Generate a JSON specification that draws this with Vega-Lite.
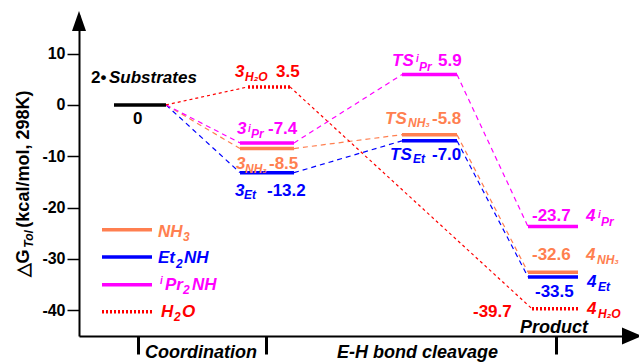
{
  "$schema": "https://vega.github.io/schema/vega-lite/v6.json",
  "width": 558,
  "height": 321,
  "autosize": {"type": "none"},
  "padding": {"left": 79, "top": 15, "right": 2, "bottom": 27},
  "background": "white",
  "config": {"view": {"stroke": null}, "font": "Liberation Sans"},
  "datasets": {
    "levels": [
      {"series": "ref", "stage": "start", "g": 0, "x0": 35, "x1": 87},
      {"series": "H2O", "stage": "3", "g": 3.5, "x0": 169, "x1": 211},
      {"series": "iPr2NH", "stage": "3", "g": -7.4, "x0": 161, "x1": 215},
      {"series": "NH3", "stage": "3", "g": -8.5, "x0": 161, "x1": 215},
      {"series": "Et2NH", "stage": "3", "g": -13.2, "x0": 161, "x1": 215},
      {"series": "iPr2NH", "stage": "TS", "g": 5.9, "x0": 323, "x1": 378},
      {"series": "NH3", "stage": "TS", "g": -5.8, "x0": 323, "x1": 378},
      {"series": "Et2NH", "stage": "TS", "g": -7.0, "x0": 323, "x1": 378},
      {"series": "iPr2NH", "stage": "4", "g": -23.7, "x0": 449, "x1": 499},
      {"series": "NH3", "stage": "4", "g": -32.6, "x0": 449, "x1": 499},
      {"series": "Et2NH", "stage": "4", "g": -33.5, "x0": 449, "x1": 499},
      {"series": "H2O", "stage": "4", "g": -39.7, "x0": 453, "x1": 499}
    ],
    "links": [
      {"series": "NH3", "xa": 87, "ga": 0, "xb": 161, "gb": -8.5},
      {"series": "NH3", "xa": 215, "ga": -8.5, "xb": 323, "gb": -5.8},
      {"series": "NH3", "xa": 378, "ga": -5.8, "xb": 449, "gb": -32.6},
      {"series": "Et2NH", "xa": 87, "ga": 0, "xb": 161, "gb": -13.2},
      {"series": "Et2NH", "xa": 215, "ga": -13.2, "xb": 323, "gb": -7.0},
      {"series": "Et2NH", "xa": 378, "ga": -7.0, "xb": 449, "gb": -33.5},
      {"series": "iPr2NH", "xa": 87, "ga": 0, "xb": 161, "gb": -7.4},
      {"series": "iPr2NH", "xa": 215, "ga": -7.4, "xb": 323, "gb": 5.9},
      {"series": "iPr2NH", "xa": 378, "ga": 5.9, "xb": 449, "gb": -23.7},
      {"series": "H2O", "xa": 87, "ga": 0, "xb": 169, "gb": 3.5},
      {"series": "H2O", "xa": 211, "ga": 3.5, "xb": 453, "gb": -39.7}
    ],
    "labels": [
      {"series": "ref", "role": "num", "text": "2•", "x": 12, "g": 4.35},
      {"series": "ref", "role": "main", "text": "Substrates", "x": 30, "g": 4.35},
      {"series": "ref", "role": "num", "text": "0", "x": 54, "g": -3.67},
      {"series": "ref", "role": "stage", "text": "Coordination", "x": 66, "g": -49.3},
      {"series": "ref", "role": "stage", "text": "E-H bond cleavage", "x": 258, "g": -49.3},
      {"series": "ref", "role": "stage", "text": "Product", "x": 441, "g": -44.4},
      {"series": "H2O", "role": "main", "text": "3", "x": 156, "g": 5.52},
      {"series": "H2O", "role": "sub", "text": "H₂O", "x": 166, "g": 4.74},
      {"series": "H2O", "role": "num", "text": "3.5", "x": 197, "g": 5.52},
      {"series": "H2O", "role": "num", "text": "-39.7", "x": 394, "g": -41.3},
      {"series": "H2O", "role": "main", "text": "4", "x": 508, "g": -40.7},
      {"series": "H2O", "role": "sub", "text": "H₂O", "x": 519, "g": -41.5},
      {"series": "iPr2NH", "role": "main", "text": "3", "x": 158, "g": -5.6},
      {"series": "iPr2NH", "role": "sup", "text": "i", "x": 169, "g": -5.3},
      {"series": "iPr2NH", "role": "sub", "text": "Pr", "x": 172, "g": -6.4},
      {"series": "iPr2NH", "role": "num", "text": "-7.4", "x": 189, "g": -5.6},
      {"series": "iPr2NH", "role": "main", "text": "TS", "x": 313, "g": 7.66},
      {"series": "iPr2NH", "role": "sup", "text": "i", "x": 337, "g": 8.3},
      {"series": "iPr2NH", "role": "sub", "text": "Pr", "x": 340, "g": 6.69},
      {"series": "iPr2NH", "role": "num", "text": "5.9", "x": 359, "g": 7.66},
      {"series": "iPr2NH", "role": "num", "text": "-23.7", "x": 453, "g": -22.6},
      {"series": "iPr2NH", "role": "main", "text": "4", "x": 507, "g": -22.6},
      {"series": "iPr2NH", "role": "sup", "text": "i", "x": 519, "g": -22.0},
      {"series": "iPr2NH", "role": "sub", "text": "Pr", "x": 522, "g": -23.5},
      {"series": "NH3", "role": "main", "text": "3", "x": 157, "g": -12.4},
      {"series": "NH3", "role": "sub", "text": "NH₃", "x": 166, "g": -13.2},
      {"series": "NH3", "role": "num", "text": "-8.5", "x": 190, "g": -12.4},
      {"series": "NH3", "role": "main", "text": "TS", "x": 306, "g": -3.65},
      {"series": "NH3", "role": "sub", "text": "NH₃", "x": 329, "g": -4.4},
      {"series": "NH3", "role": "num", "text": "-5.8", "x": 353, "g": -3.65},
      {"series": "NH3", "role": "num", "text": "-32.6", "x": 453, "g": -30.2},
      {"series": "NH3", "role": "main", "text": "4", "x": 507, "g": -30.2},
      {"series": "NH3", "role": "sub", "text": "NH₃", "x": 518, "g": -30.9},
      {"series": "Et2NH", "role": "main", "text": "3", "x": 156, "g": -17.7},
      {"series": "Et2NH", "role": "sub", "text": "Et", "x": 165, "g": -18.4},
      {"series": "Et2NH", "role": "num", "text": "-13.2", "x": 188, "g": -17.7},
      {"series": "Et2NH", "role": "main", "text": "TS", "x": 311, "g": -10.66},
      {"series": "Et2NH", "role": "sub", "text": "Et", "x": 334, "g": -11.4},
      {"series": "Et2NH", "role": "num", "text": "-7.0", "x": 353, "g": -10.66},
      {"series": "Et2NH", "role": "main", "text": "4", "x": 508, "g": -35.4},
      {"series": "Et2NH", "role": "sub", "text": "Et", "x": 519, "g": -36.2},
      {"series": "Et2NH", "role": "num", "text": "-33.5", "x": 456, "g": -37.4},
      {"series": "NH3", "role": "main", "text": "NH", "x": 79, "g": -25.66},
      {"series": "NH3", "role": "sub", "text": "3", "x": 104, "g": -26.5},
      {"series": "Et2NH", "role": "main", "text": "Et", "x": 79, "g": -30.85},
      {"series": "Et2NH", "role": "sub", "text": "2", "x": 97, "g": -31.7},
      {"series": "Et2NH", "role": "main", "text": "NH", "x": 105, "g": -30.85},
      {"series": "iPr2NH", "role": "sup", "text": "i", "x": 81, "g": -34.9},
      {"series": "iPr2NH", "role": "main", "text": "Pr", "x": 86, "g": -36.04},
      {"series": "iPr2NH", "role": "sub", "text": "2", "x": 104, "g": -36.9},
      {"series": "iPr2NH", "role": "main", "text": "NH", "x": 113, "g": -36.04},
      {"series": "H2O", "role": "main", "text": "H", "x": 82, "g": -41.3},
      {"series": "H2O", "role": "sub", "text": "2", "x": 95, "g": -42.1},
      {"series": "H2O", "role": "main", "text": "O", "x": 103, "g": -41.3},
      {"series": "ref", "role": "title", "text": "△G", "x": -50, "g": -33.6},
      {"series": "ref", "role": "titlesub", "text": "Tol", "x": -46, "g": -27.8},
      {"series": "ref", "role": "title", "text": "(kcal/mol, 298K)", "x": -50, "g": -23.9}
    ],
    "key": [
      {"series": "NH3", "g": -24.3},
      {"series": "Et2NH", "g": -29.6},
      {"series": "iPr2NH", "g": -35.0},
      {"series": "H2O", "g": -40.3}
    ],
    "arrows": [
      {"axis": "y", "x": 0, "g": 16.33},
      {"axis": "x", "x": 553, "g": -45}
    ]
  },
  "layer": [
    {
      "data": {"name": "links"},
      "transform": [{"filter": "datum.series !== 'H2O'"}],
      "mark": {"type": "rule", "strokeWidth": 1.2, "strokeDash": [5, 4]},
      "encoding": {
        "x": {"field": "xa", "type": "quantitative", "title": null, "scale": {"domain": [0, 558], "nice": false, "zero": false},
          "axis": {"values": [59, 187, 477], "labels": false, "ticks": true, "domain": true, "tickSize": 18, "tickWidth": 3, "tickColor": "black", "domainColor": "black", "domainWidth": 2, "title": null, "grid": false, "orient": "bottom"}},
        "x2": {"field": "xb"},
        "y": {"field": "ga", "type": "quantitative", "title": null, "scale": {"domain": [-45, 17.5], "nice": false, "zero": false},
          "axis": {"values": [-40, -30, -20, -10, 0, 10], "labelExpr": "'' + datum.value", "ticks": true, "domain": true, "tickSize": 12, "tickWidth": 1.5, "tickColor": "black", "domainColor": "black", "domainWidth": 2, "labelFont": "Liberation Sans", "labelFontWeight": "bold", "labelFontSize": 16, "labelColor": "black", "labelPadding": 2, "title": null, "grid": false}},
        "y2": {"field": "gb"},
        "color": {"field": "series", "type": "nominal", "legend": null,
          "scale": {"domain": ["NH3", "Et2NH", "iPr2NH", "H2O", "ref"], "range": ["#FF7F50", "#0000FF", "#FF00FF", "#FF0000", "#000000"]}}
      }
    },
    {
      "data": {"name": "links"},
      "transform": [{"filter": "datum.series === 'H2O'"}],
      "mark": {"type": "rule", "strokeWidth": 1.2, "strokeDash": [3, 3]},
      "encoding": {
        "x": {"field": "xa", "type": "quantitative", "title": null, "scale": {"domain": [0, 558], "nice": false, "zero": false}},
        "x2": {"field": "xb"},
        "y": {"field": "ga", "type": "quantitative", "title": null, "scale": {"domain": [-45, 17.5], "nice": false, "zero": false}},
        "y2": {"field": "gb"},
        "color": {"field": "series", "type": "nominal", "legend": null,
          "scale": {"domain": ["NH3", "Et2NH", "iPr2NH", "H2O", "ref"], "range": ["#FF7F50", "#0000FF", "#FF00FF", "#FF0000", "#000000"]}}
      }
    },
    {
      "data": {"name": "levels"},
      "transform": [{"filter": "datum.series !== 'H2O'"}],
      "mark": {"type": "rule", "strokeWidth": 3.5},
      "encoding": {
        "x": {"field": "x0", "type": "quantitative", "title": null, "scale": {"domain": [0, 558], "nice": false, "zero": false}},
        "x2": {"field": "x1"},
        "y": {"field": "g", "type": "quantitative", "title": null, "scale": {"domain": [-45, 17.5], "nice": false, "zero": false}},
        "color": {"field": "series", "type": "nominal", "legend": null,
          "scale": {"domain": ["NH3", "Et2NH", "iPr2NH", "H2O", "ref"], "range": ["#FF7F50", "#0000FF", "#FF00FF", "#FF0000", "#000000"]}}
      }
    },
    {
      "data": {"name": "levels"},
      "transform": [{"filter": "datum.series === 'H2O'"}],
      "mark": {"type": "rule", "strokeWidth": 3.5, "strokeDash": [2, 2]},
      "encoding": {
        "x": {"field": "x0", "type": "quantitative", "title": null, "scale": {"domain": [0, 558], "nice": false, "zero": false}},
        "x2": {"field": "x1"},
        "y": {"field": "g", "type": "quantitative", "title": null, "scale": {"domain": [-45, 17.5], "nice": false, "zero": false}},
        "color": {"field": "series", "type": "nominal", "legend": null,
          "scale": {"domain": ["NH3", "Et2NH", "iPr2NH", "H2O", "ref"], "range": ["#FF7F50", "#0000FF", "#FF00FF", "#FF0000", "#000000"]}}
      }
    },
    {
      "data": {"name": "key"},
      "transform": [{"filter": "datum.series !== 'H2O'"}],
      "mark": {"type": "rule", "strokeWidth": 3.5},
      "encoding": {
        "x": {"datum": 23, "type": "quantitative", "title": null, "scale": {"domain": [0, 558], "nice": false, "zero": false}},
        "x2": {"datum": 73},
        "y": {"field": "g", "type": "quantitative", "title": null, "scale": {"domain": [-45, 17.5], "nice": false, "zero": false}},
        "color": {"field": "series", "type": "nominal", "legend": null,
          "scale": {"domain": ["NH3", "Et2NH", "iPr2NH", "H2O", "ref"], "range": ["#FF7F50", "#0000FF", "#FF00FF", "#FF0000", "#000000"]}}
      }
    },
    {
      "data": {"name": "key"},
      "transform": [{"filter": "datum.series === 'H2O'"}],
      "mark": {"type": "rule", "strokeWidth": 3.5, "strokeDash": [2, 2]},
      "encoding": {
        "x": {"datum": 23, "type": "quantitative", "title": null, "scale": {"domain": [0, 558], "nice": false, "zero": false}},
        "x2": {"datum": 73},
        "y": {"field": "g", "type": "quantitative", "title": null, "scale": {"domain": [-45, 17.5], "nice": false, "zero": false}},
        "color": {"field": "series", "type": "nominal", "legend": null,
          "scale": {"domain": ["NH3", "Et2NH", "iPr2NH", "H2O", "ref"], "range": ["#FF7F50", "#0000FF", "#FF00FF", "#FF0000", "#000000"]}}
      }
    },
    {
      "data": {"name": "labels"},
      "transform": [{"filter": "datum.role === 'main'"}],
      "mark": {"type": "text", "align": "left", "baseline": "alphabetic", "font": "Liberation Sans", "fontSize": 17, "fontWeight": "bold", "fontStyle": "italic"},
      "encoding": {
        "x": {"field": "x", "type": "quantitative", "title": null, "scale": {"domain": [0, 558], "nice": false, "zero": false}},
        "y": {"field": "g", "type": "quantitative", "title": null, "scale": {"domain": [-45, 17.5], "nice": false, "zero": false}},
        "text": {"field": "text"},
        "color": {"field": "series", "type": "nominal", "legend": null,
          "scale": {"domain": ["NH3", "Et2NH", "iPr2NH", "H2O", "ref"], "range": ["#FF7F50", "#0000FF", "#FF00FF", "#FF0000", "#000000"]}}
      }
    },
    {
      "data": {"name": "labels"},
      "transform": [{"filter": "datum.role === 'num'"}],
      "mark": {"type": "text", "align": "left", "baseline": "alphabetic", "font": "Liberation Sans", "fontSize": 17, "fontWeight": "bold"},
      "encoding": {
        "x": {"field": "x", "type": "quantitative", "title": null, "scale": {"domain": [0, 558], "nice": false, "zero": false}},
        "y": {"field": "g", "type": "quantitative", "title": null, "scale": {"domain": [-45, 17.5], "nice": false, "zero": false}},
        "text": {"field": "text"},
        "color": {"field": "series", "type": "nominal", "legend": null,
          "scale": {"domain": ["NH3", "Et2NH", "iPr2NH", "H2O", "ref"], "range": ["#FF7F50", "#0000FF", "#FF00FF", "#FF0000", "#000000"]}}
      }
    },
    {
      "data": {"name": "labels"},
      "transform": [{"filter": "datum.role === 'sub'"}],
      "mark": {"type": "text", "align": "left", "baseline": "alphabetic", "font": "Liberation Sans", "fontSize": 12, "fontWeight": "bold", "fontStyle": "italic"},
      "encoding": {
        "x": {"field": "x", "type": "quantitative", "title": null, "scale": {"domain": [0, 558], "nice": false, "zero": false}},
        "y": {"field": "g", "type": "quantitative", "title": null, "scale": {"domain": [-45, 17.5], "nice": false, "zero": false}},
        "text": {"field": "text"},
        "color": {"field": "series", "type": "nominal", "legend": null,
          "scale": {"domain": ["NH3", "Et2NH", "iPr2NH", "H2O", "ref"], "range": ["#FF7F50", "#0000FF", "#FF00FF", "#FF0000", "#000000"]}}
      }
    },
    {
      "data": {"name": "labels"},
      "transform": [{"filter": "datum.role === 'sup'"}],
      "mark": {"type": "text", "align": "left", "baseline": "alphabetic", "font": "Liberation Sans", "fontSize": 10, "fontWeight": "bold", "fontStyle": "italic"},
      "encoding": {
        "x": {"field": "x", "type": "quantitative", "title": null, "scale": {"domain": [0, 558], "nice": false, "zero": false}},
        "y": {"field": "g", "type": "quantitative", "title": null, "scale": {"domain": [-45, 17.5], "nice": false, "zero": false}},
        "text": {"field": "text"},
        "color": {"field": "series", "type": "nominal", "legend": null,
          "scale": {"domain": ["NH3", "Et2NH", "iPr2NH", "H2O", "ref"], "range": ["#FF7F50", "#0000FF", "#FF00FF", "#FF0000", "#000000"]}}
      }
    },
    {
      "data": {"name": "labels"},
      "transform": [{"filter": "datum.role === 'stage'"}],
      "mark": {"type": "text", "align": "left", "baseline": "alphabetic", "font": "Liberation Sans", "fontSize": 18, "fontWeight": "bold", "fontStyle": "italic", "color": "black"},
      "encoding": {
        "x": {"field": "x", "type": "quantitative", "title": null, "scale": {"domain": [0, 558], "nice": false, "zero": false}},
        "y": {"field": "g", "type": "quantitative", "title": null, "scale": {"domain": [-45, 17.5], "nice": false, "zero": false}},
        "text": {"field": "text"}
      }
    },
    {
      "data": {"name": "labels"},
      "transform": [{"filter": "datum.role === 'title'"}],
      "mark": {"type": "text", "align": "left", "baseline": "alphabetic", "angle": 270, "font": "Liberation Sans", "fontSize": 18, "fontWeight": "bold", "color": "black"},
      "encoding": {
        "x": {"field": "x", "type": "quantitative", "title": null, "scale": {"domain": [0, 558], "nice": false, "zero": false}},
        "y": {"field": "g", "type": "quantitative", "title": null, "scale": {"domain": [-45, 17.5], "nice": false, "zero": false}},
        "text": {"field": "text"}
      }
    },
    {
      "data": {"name": "labels"},
      "transform": [{"filter": "datum.role === 'titlesub'"}],
      "mark": {"type": "text", "align": "left", "baseline": "alphabetic", "angle": 270, "font": "Liberation Sans", "fontSize": 12, "fontWeight": "bold", "fontStyle": "italic", "color": "black"},
      "encoding": {
        "x": {"field": "x", "type": "quantitative", "title": null, "scale": {"domain": [0, 558], "nice": false, "zero": false}},
        "y": {"field": "g", "type": "quantitative", "title": null, "scale": {"domain": [-45, 17.5], "nice": false, "zero": false}},
        "text": {"field": "text"}
      }
    },
    {
      "data": {"name": "arrows"},
      "mark": {"type": "point", "filled": true, "color": "black", "opacity": 1, "size": 400, "strokeWidth": 0},
      "encoding": {
        "x": {"field": "x", "type": "quantitative", "title": null, "scale": {"domain": [0, 558], "nice": false, "zero": false}},
        "y": {"field": "g", "type": "quantitative", "title": null, "scale": {"domain": [-45, 17.5], "nice": false, "zero": false}},
        "shape": {"field": "axis", "type": "nominal", "legend": null,
          "scale": {"domain": ["y", "x"], "range": ["M0,-1L0.7,1L-0.7,1Z", "M1,0L-1,-0.85L-1,0.85Z"]}}
      }
    }
  ]
}
